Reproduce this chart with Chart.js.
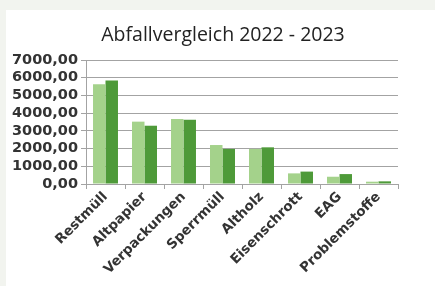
<!DOCTYPE html>
<html>
<head>
<meta charset="utf-8">
<script src="https://cdn.jsdelivr.net/npm/chart.js@4.4.1/dist/chart.umd.min.js"></script>
<style>
  html, body { margin: 0; padding: 0; background: #f2f4ef; }
  #panel { position: absolute; left: 6px; top: 10px; width: 429px; height: 276px; background: #ffffff; }
  #wrap { position: absolute; left: 0; top: 0; width: 435px; height: 286px; }
</style>
</head>
<body>
<div id="panel"></div>
<div id="wrap"><canvas id="wasteChart" width="435" height="286"></canvas></div>
<script>
const categories = ['Restmüll', 'Altpapier', 'Verpackungen', 'Sperrmüll', 'Altholz', 'Eisenschrott', 'EAG', 'Problemstoffe'];
const values2022 = [5630, 3520, 3670, 2200, 1980, 600, 410, 130];
const values2023 = [5840, 3290, 3630, 1980, 2070, 700, 560, 150];
const yTicks = [0, 1000, 2000, 3000, 4000, 5000, 6000, 7000];
const chartTitle = 'Abfallvergleich 2022 - 2023';

const textColor = '#333333',
      gridColor = '#a3a3a3';

// the built-in title centres over the padded box, the original sits a bit to the right
const titlePlugin = {
    id: 'offsetTitle',
    afterDraw(chart) {
        const ctx = chart.ctx;
        ctx.save();
        ctx.font = 'normal 19.5px "Open Sans"';
        ctx.fillStyle = '#222222';
        ctx.textAlign = 'center';
        ctx.textBaseline = 'middle';
        ctx.fillText(chartTitle, 223, 35);
        ctx.restore();
    }
};

const wasteCanvas = document.getElementById('wasteChart').getContext('2d'),
      wasteChart = new Chart(wasteCanvas, {
          type: 'bar',
          data: {
              labels: categories,
              datasets: [{
                  label: '2022',
                  data: values2022,
                  backgroundColor: '#a4d28b',
                  borderWidth: 0
              }, {
                  label: '2023',
                  data: values2023,
                  backgroundColor: '#4e9a39',
                  borderWidth: 0
              }]
          },
          options: {
              responsive: false,
              animation: false,
              devicePixelRatio: 1,
              layout: { padding: { left: 0, right: 37, top: 60, bottom: 2 } },
              datasets: { bar: { categoryPercentage: 0.64, barPercentage: 1 } },
              plugins: {
                  legend: { display: false },
                  tooltip: { enabled: false },
                  title: { display: false }
              },
              scales: {
                  y: {
                      min: 0,
                      max: 7000,
                      afterBuildTicks: axis => { axis.ticks = yTicks.map(v => ({ value: v })); },
                      afterFit: axis => { axis.width = 86; },
                      border: { display: true, color: gridColor },
                      grid: { color: gridColor, tickLength: 5, drawTicks: true },
                      ticks: {
                          color: textColor,
                          autoSkip: false,
                          padding: 3,
                          font: { family: 'DejaVu Sans', size: 14.5, weight: 'bold' },
                          callback: v => v.toFixed(2).replace('.', ',')
                      }
                  },
                  x: {
                      afterFit: axis => { axis.height = 100; },
                      border: { display: true, color: gridColor },
                      grid: { offset: true, drawOnChartArea: false, drawTicks: true, tickLength: 5, color: gridColor },
                      ticks: {
                          color: textColor,
                          autoSkip: false,
                          maxRotation: 45,
                          minRotation: 45,
                          padding: 0,
                          font: { family: 'DejaVu Sans', size: 13.5, weight: 'bold' }
                      }
                  }
              }
          },
          plugins: [titlePlugin]
      });
</script>
</body>
</html>
